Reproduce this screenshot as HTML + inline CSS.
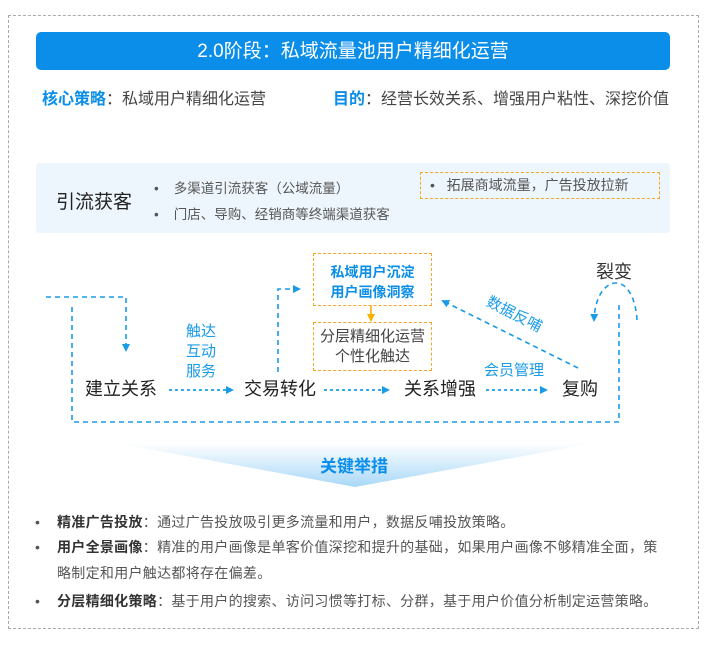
<!DOCTYPE html>
<html><head><meta charset="utf-8"><style>
body{margin:0;background:#fff;}
#c{position:relative;width:713px;height:647px;overflow:hidden;font-family:"Liberation Sans","Noto Sans CJK SC",sans-serif;color:#333;}
.a{position:absolute;white-space:nowrap;line-height:1;}
</style></head><body><div id="c">
<div class="a" style="left:8px;top:15px;width:689px;height:612px;border:1px dashed #aaa;"></div>
<div class="a" style="left:36px;top:32px;width:634px;height:38px;background:#0a8ee9;border-radius:5px;"></div>
<div class="a" style="left:36px;top:42px;width:634px;text-align:center;color:#fff;font-size:19px;">2.0阶段：私域流量池用户精细化运营</div>
<div class="a" style="left:42px;top:92px;font-size:16px;color:#444;"><b style="color:#0a8ee9">核心策略</b>：私域用户精细化运营</div>
<div class="a" style="left:333px;top:92px;font-size:16px;color:#444;"><b style="color:#0a8ee9">目的</b>：经营长效关系、增强用户粘性、深挖价值</div>
<div class="a" style="left:36px;top:163px;width:634px;height:70px;background:#eef6fd;border-radius:3px;"></div>
<div class="a" style="left:56px;top:193px;font-size:19px;color:#222;">引流获客</div>
<div class="a" style="left:154px;top:182px;font-size:13.5px;color:#555;">•&nbsp;&nbsp;&nbsp;&nbsp;多渠道引流获客（公域流量）</div>
<div class="a" style="left:154px;top:208px;font-size:13.5px;color:#555;">•&nbsp;&nbsp;&nbsp;&nbsp;门店、导购、经销商等终端渠道获客</div>
<div class="a" style="left:420px;top:172px;width:238px;height:25px;border:1px dashed #f5a623;"></div>
<div class="a" style="left:430px;top:178px;font-size:14px;color:#555;">•&nbsp;&nbsp;&nbsp;拓展商域流量，广告投放拉新</div>

<svg class="a" style="left:0;top:0" width="713" height="647">
<defs>
<linearGradient id="g" x1="0" y1="0" x2="0" y2="1"><stop offset="0" stop-color="#fff"/><stop offset="1" stop-color="#a8d8f8"/></linearGradient>
<marker id="m" markerWidth="8" markerHeight="8" refX="6" refY="4" orient="auto" markerUnits="userSpaceOnUse"><path d="M0,0 L8,4 L0,8 z" fill="#1a9be8"/></marker>
<marker id="o" markerWidth="8" markerHeight="8" refX="6" refY="4" orient="auto" markerUnits="userSpaceOnUse"><path d="M0,0 L8,4 L0,8 z" fill="#f5b000"/></marker>
</defs>
<g fill="none" stroke="#1a9be8" stroke-width="1.6" stroke-dasharray="5,4">
<path d="M46,297 H126 V350" marker-end="url(#m)"/>
<path d="M72,307 V422 H619 V302"/>
<path d="M278,372 V289 H299" marker-end="url(#m)"/>
<path d="M578,368 L443,301" marker-end="url(#m)"/>
<path d="M637,320 C636,300 628,283 616,283 C606,283 595,295 594,320" marker-end="url(#m)"/>
</g>
<g fill="none" stroke="#1a9be8" stroke-width="1.8" stroke-dasharray="3,3">
<path d="M169,390 H232" marker-end="url(#m)"/>
<path d="M324,390 H388" marker-end="url(#m)"/>
<path d="M486,390 H546" marker-end="url(#m)"/>
</g>
<path d="M371,306 V320" stroke="#f5b000" stroke-width="1.6" marker-end="url(#o)"/>
<polygon points="116,443 594,443 355,487" fill="url(#g)"/>
</svg>
<div class="a" style="left:596px;top:263px;font-size:18px;color:#333;">裂变</div>
<div class="a" style="left:313px;top:253px;width:117px;height:51px;border:1.5px dashed #f5a623;"></div>
<div class="a" style="left:313px;top:262px;width:119px;text-align:center;font-size:14px;font-weight:bold;color:#0a8ee9;line-height:20px;white-space:normal;">私域用户沉淀<br>用户画像洞察</div>
<div class="a" style="left:313px;top:322px;width:117px;height:47px;border:1.5px dashed #f5a623;"></div>
<div class="a" style="left:313px;top:327px;width:119px;text-align:center;font-size:15px;color:#444;line-height:20px;white-space:normal;">分层精细化运营<br>个性化触达</div>
<div class="a" style="left:186px;top:322px;font-size:15px;color:#1a9be8;line-height:20px;white-space:normal;width:40px;">触达<br>互动<br>服务</div>
<div class="a" style="left:85px;top:380px;font-size:18px;color:#222;">建立关系</div>
<div class="a" style="left:244px;top:380px;font-size:18px;color:#222;">交易转化</div>
<div class="a" style="left:404px;top:380px;font-size:18px;color:#222;">关系增强</div>
<div class="a" style="left:562px;top:380px;font-size:18px;color:#222;">复购</div>
<div class="a" style="left:484px;top:363px;font-size:15px;color:#1a9be8;">会员管理</div>
<div class="a" style="left:484px;top:307px;font-size:15px;color:#1a9be8;transform:rotate(27deg);transform-origin:center;">数据反哺</div>
<div class="a" style="left:320px;top:458px;font-size:17px;font-weight:bold;color:#0a8ee9;">关键举措</div>
<div class="a" style="left:35px;top:515px;font-size:14px;color:#555;letter-spacing:0.3px;">•&nbsp;&nbsp;&nbsp;&nbsp;<b style="color:#333">精准广告投放</b>：通过广告投放吸引更多流量和用户，数据反哺投放策略。</div>
<div class="a" style="left:35px;top:540px;font-size:14px;color:#555;letter-spacing:0.3px;">•&nbsp;&nbsp;&nbsp;&nbsp;<b style="color:#333">用户全景画像</b>：精准的用户画像是单客价值深挖和提升的基础，如果用户画像不够精准全面，策</div>
<div class="a" style="left:57px;top:566px;font-size:14px;color:#555;letter-spacing:0.3px;">略制定和用户触达都将存在偏差。</div>
<div class="a" style="left:35px;top:594px;font-size:14px;color:#555;letter-spacing:0.3px;">•&nbsp;&nbsp;&nbsp;&nbsp;<b style="color:#333">分层精细化策略</b>：基于用户的搜索、访问习惯等打标、分群，基于用户价值分析制定运营策略。</div>
</div></body></html>
